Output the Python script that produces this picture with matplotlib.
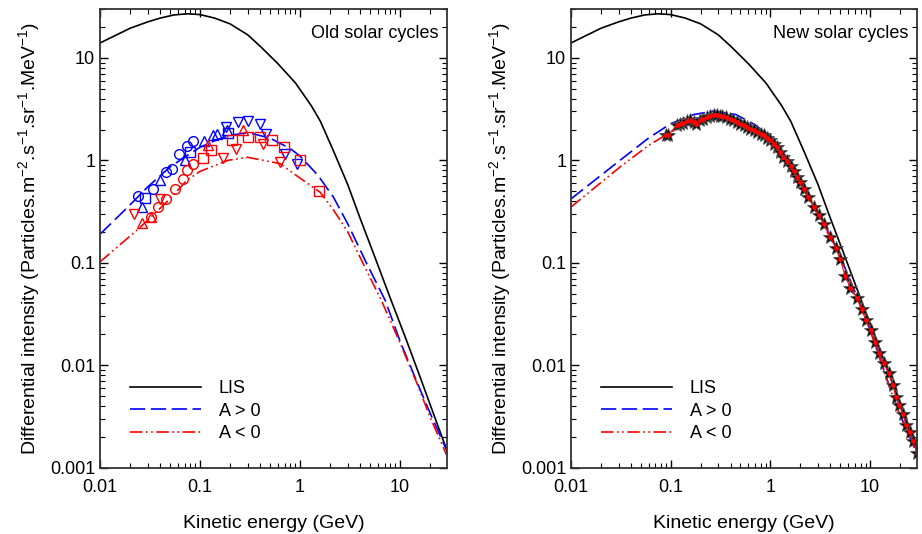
import matplotlib
matplotlib.use("Agg")
import matplotlib.pyplot as plt
from matplotlib.ticker import LogLocator, FixedLocator, FixedFormatter, NullFormatter

plt.rcParams['font.family'] = ['Liberation Sans', 'DejaVu Sans']
plt.rcParams['mathtext.fontset'] = 'custom'
plt.rcParams['mathtext.rm'] = 'Liberation Sans'
plt.rcParams['mathtext.it'] = 'Liberation Sans:italic'
plt.rcParams['mathtext.bf'] = 'Liberation Sans:bold'
plt.rcParams['lines.scale_dashes'] = False

# ---------------- data ----------------
lis_E = [0.01, 0.015, 0.02, 0.03, 0.04, 0.055, 0.075, 0.1, 0.14, 0.2, 0.3, 0.4, 0.6, 0.9,
         1.3, 1.6, 2.15, 3.0, 4.0, 5.4, 8.0, 11.6, 16, 22, 30]
lis_I = [14, 17, 19.5, 22.5, 24.5, 26.3, 27, 26.5, 24.5, 21.5, 16.8, 13, 8.8, 5.7,
         3.4, 2.4, 1.25, 0.58, 0.27, 0.125, 0.045, 0.0175, 0.0075, 0.0032, 0.0014]

# Old solar cycles model curves
old_pos_E = [0.01, 0.019, 0.03, 0.05, 0.075, 0.1, 0.15, 0.2, 0.3, 0.5, 0.8, 1.0, 1.5,
             2.15, 3.0, 4.6, 7.1, 10, 15, 20, 30]
old_pos_I = [0.19, 0.35, 0.55, 0.86, 1.12, 1.34, 1.6, 1.75, 1.87, 1.65, 1.3, 1.1, 0.72,
             0.44, 0.24, 0.1, 0.043, 0.0172, 0.0066, 0.0034, 0.0014]
old_neg_E = [0.01, 0.025, 0.05, 0.074, 0.1, 0.19, 0.3, 0.63, 1.0, 1.58, 2.15, 3.0, 4.6,
             6.5, 10, 15, 20, 30]
old_neg_I = [0.102, 0.22, 0.42, 0.64, 0.78, 1.0, 1.07, 0.93, 0.67, 0.49, 0.33, 0.2, 0.085,
             0.043, 0.0165, 0.0064, 0.0031, 0.00125]

# Old solar cycles observations
bc_E = [0.024, 0.034, 0.046, 0.052, 0.061, 0.074, 0.086]
bc_I = [0.45, 0.53, 0.77, 0.82, 1.16, 1.37, 1.54]
btu_E = [0.026, 0.04, 0.071, 0.11, 0.135, 0.147, 0.185]
btu_I = [0.35, 0.64, 1.0, 1.54, 1.75, 1.82, 1.96]
bs_E = [0.028, 0.079, 0.19]
bs_I = [0.43, 1.2, 1.85]
btd_E = [0.18, 0.24, 0.30, 0.40, 0.46, 0.71, 0.93]
btd_I = [2.1, 2.36, 2.42, 2.28, 1.82, 1.16, 0.93]
rc_E = [0.032, 0.038, 0.046, 0.056, 0.068, 0.074, 0.086]
rc_I = [0.28, 0.35, 0.42, 0.53, 0.66, 0.8, 0.93]
rtu_E = [0.026, 0.032, 0.12, 0.27]
rtu_I = [0.245, 0.28, 1.4, 1.99]
rtd_E = [0.022, 0.04, 0.17, 0.23, 0.43, 0.63]
rtd_I = [0.30, 0.42, 1.05, 1.3, 1.45, 0.96]
rs_E = [0.107, 0.13, 0.21, 0.30, 0.40, 0.53, 0.69, 1.0, 1.55]
rs_I = [1.05, 1.25, 1.59, 1.69, 1.69, 1.59, 1.35, 1.0, 0.50]

# New solar cycles model curves
new_pos_E = [0.01, 0.031, 0.06, 0.1, 0.17, 0.27, 0.45, 0.72, 1.0, 1.4, 1.85, 2.14, 3.2,
             4.6, 7.5, 10.6, 15.5, 21, 30]
new_pos_I = [0.42, 1.0, 1.65, 2.28, 2.8, 3.03, 2.8, 2.19, 1.65, 1.05, 0.69, 0.55, 0.27,
             0.14, 0.045, 0.019, 0.0063, 0.0029, 0.00132]
new_neg_E = [0.01, 0.031, 0.06, 0.1, 0.17, 0.27, 0.45, 0.72, 1.0, 1.4, 1.85, 2.14, 3.2,
             4.6, 7.5, 10.6, 15.5, 21, 30]
new_neg_I = [0.35, 0.86, 1.4, 1.89, 2.45, 2.69, 2.5, 1.95, 1.52, 0.98, 0.63, 0.52, 0.26,
             0.135, 0.044, 0.0185, 0.0062, 0.0028, 0.0013]

# New solar cycles observations
star_E = [0.09, 0.095, 0.115, 0.125, 0.134, 0.145, 0.157, 0.17, 0.18, 0.195, 0.21, 0.23,
          0.25, 0.27, 0.29, 0.31, 0.33, 0.36, 0.39, 0.42, 0.46, 0.5, 0.54, 0.58, 0.63,
          0.68, 0.73, 0.8, 0.86, 0.93, 1.0, 1.08, 1.17, 1.26, 1.35, 1.47, 1.6, 1.73, 1.86,
          2.0, 2.15, 2.4, 2.72, 3.05, 3.42, 3.98, 4.5, 5.0, 5.6, 6.3, 7.4, 8.2, 9.1, 10.2,
          11.2, 12.3, 13.8, 15.3, 16.8, 18.2, 19.6, 21.2, 22.9, 24.8, 26.8, 29.5]
star_I = [1.75, 1.78, 2.2, 2.25, 2.31, 2.4, 2.45, 2.35, 2.28, 2.45, 2.55, 2.62,
          2.7, 2.75, 2.75, 2.72, 2.68, 2.62, 2.55, 2.45, 2.36, 2.28, 2.2, 2.12, 2.04,
          1.96, 1.89, 1.82, 1.75, 1.66, 1.57, 1.45, 1.35, 1.2, 1.08, 0.98, 0.89, 0.78, 0.69,
          0.61, 0.53, 0.44, 0.35, 0.29, 0.24, 0.18, 0.14, 0.108, 0.075, 0.057, 0.045, 0.035,
          0.0275, 0.022, 0.0169, 0.013, 0.0104, 0.0083, 0.0064, 0.0049, 0.0041, 0.0033,
          0.0026, 0.0022, 0.0018, 0.0014]

x_ticks = [0.01, 0.1, 1, 10]
x_labels = ['0.01', '0.1', '1', '10']
y_ticks = [0.001, 0.01, 0.1, 1, 10]
y_labels = ['0.001', '0.01', '0.1', '1', '10']

BLUE = '#0000ff'
RED = '#ff0000'
blue_dash = (0, (11, 4))
red_dash = (0, (9, 2.5, 1.2, 2.5, 1.2, 2.5))

fig = plt.figure(figsize=(9.22, 5.34), dpi=100)
ax1 = fig.add_axes([0.1085, 0.1245, 0.3763, 0.8585])
ax2 = fig.add_axes([0.6193, 0.1245, 0.3753, 0.8585])


def style(ax, title):
    ax.set_xscale('log')
    ax.set_yscale('log')
    ax.set_xlim(0.01, 29.5)
    ax.set_ylim(0.001, 30)
    ax.xaxis.set_major_locator(FixedLocator(x_ticks))
    ax.xaxis.set_major_formatter(FixedFormatter(x_labels))
    ax.yaxis.set_major_locator(FixedLocator(y_ticks))
    ax.yaxis.set_major_formatter(FixedFormatter(y_labels))
    ax.xaxis.set_minor_locator(LogLocator(base=10, subs=range(2, 10), numticks=20))
    ax.yaxis.set_minor_locator(LogLocator(base=10, subs=range(2, 10), numticks=20))
    ax.xaxis.set_minor_formatter(NullFormatter())
    ax.yaxis.set_minor_formatter(NullFormatter())
    ax.tick_params(which='both', direction='in', top=True, right=True,
                   labelsize=13, colors='black')
    ax.tick_params(which='major', length=6, width=1)
    ax.tick_params(which='minor', length=3.5, width=0.8)
    ax.tick_params(axis='x', which='major', pad=8)
    for s in ax.spines.values():
        s.set_linewidth(1.3)
        s.set_color('#333333')
    ax.set_xlabel('Kinetic energy (GeV)', fontsize=14, labelpad=14)
    ax.set_ylabel(r'Differential intensity (Particles.m$^{-2}$.s$^{-1}$.sr$^{-1}$.MeV$^{-1}$)',
                  fontsize=14, labelpad=6)
    ax.text(0.975, 0.965, title, transform=ax.transAxes, ha='right', va='top', fontsize=13)


# Left panel
ax1.plot(lis_E, lis_I, color='black', lw=1.2, label='LIS')
ax1.plot(old_pos_E, old_pos_I, color=BLUE, lw=1.2, linestyle=blue_dash, label='A > 0')
ax1.plot(old_neg_E, old_neg_I, color=RED, lw=1.2, linestyle=red_dash, label='A < 0')
mk = dict(linestyle='none', markerfacecolor='none', markersize=7, markeredgewidth=1.0)
ax1.plot(bc_E, bc_I, marker='o', color=BLUE, **mk)
ax1.plot(btu_E, btu_I, marker='^', color=BLUE, **mk)
ax1.plot(bs_E, bs_I, marker='s', color=BLUE, **mk)
ax1.plot(btd_E, btd_I, marker='v', color=BLUE, **mk)
ax1.plot(rc_E, rc_I, marker='o', color=RED, **mk)
ax1.plot(rtu_E, rtu_I, marker='^', color=RED, **mk)
ax1.plot(rtd_E, rtd_I, marker='v', color=RED, **mk)
ax1.plot(rs_E, rs_I, marker='s', color=RED, **mk)
style(ax1, 'Old solar cycles')

# Right panel
ax2.plot(lis_E, lis_I, color='black', lw=1.2, label='LIS')
ax2.plot(new_pos_E, new_pos_I, color=BLUE, lw=1.2, linestyle=blue_dash, label='A > 0')
ax2.plot(new_neg_E, new_neg_I, color=RED, lw=1.2, linestyle=red_dash, label='A < 0')
ax2.plot(star_E, star_I, linestyle='none', marker='*', markersize=10.5,
         markerfacecolor='black', markeredgecolor='#555555', markeredgewidth=0.6)
ax2.plot(star_E, star_I, color=RED, lw=0.8)
ax2.plot(star_E, star_I, linestyle='none', marker='o', markersize=2.5,
         markerfacecolor=RED, markeredgecolor=RED)
style(ax2, 'New solar cycles')

for ax in (ax1, ax2):
    handles, labels = ax.get_legend_handles_labels()
    ax.legend(handles[:3], labels[:3], loc='lower left', bbox_to_anchor=(0.04, 0.02),
              frameon=False, fontsize=13, handlelength=3.9, handletextpad=1.0,
              labelspacing=0.3)

fig.savefig('out.png', dpi=100)
